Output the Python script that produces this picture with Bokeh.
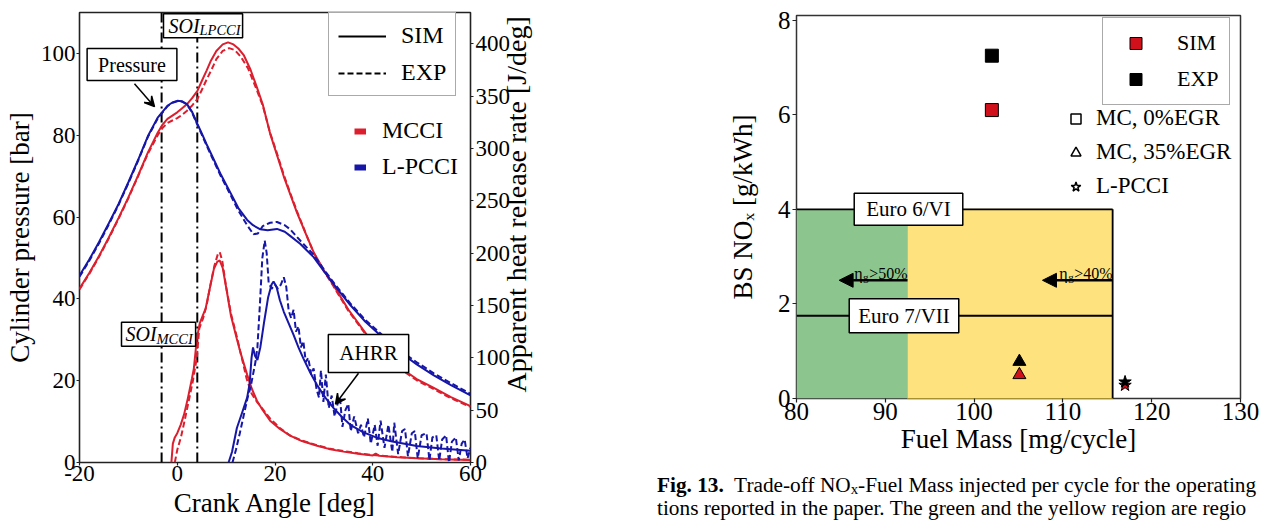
import math
from bokeh.plotting import figure
from bokeh.layouts import row, column
from bokeh.models import (Range1d, LinearAxis, FixedTicker, Label, Arrow, VeeHead,
                          NormalHead, Span, Legend, LegendItem, ColumnDataSource, Div)
from bokeh.embed import file_html
from bokeh.resources import INLINE

# ---------------- data: left panel (cylinder pressure / AHRR) ----------------
pres_lpcci_sim_deg = [-20, -18, -16, -14, -12, -10, -8, -6, -4, -2, -1, 0, 1, 2, 3, 4.1, 5, 6, 7.5, 9,
                      10.9, 12.5, 14.3, 15.5, 17, 18.5, 20.4, 22, 23.1, 25.2, 27.9, 30, 32.5, 35.4, 38.5,
                      42.2, 45.5, 49, 52.5, 56, 60]
pres_lpcci_sim_bar = [45.7, 49.6, 53.9, 58.5, 63.2, 68.5, 74.0, 79.8, 84.3, 87.2, 88.0, 88.4, 88.3, 87.6,
                      85.8, 82.8, 80.5, 77.8, 74.0, 70.2, 65.9, 62.2, 59.3, 58.0, 57.0, 56.8, 57.1, 56.4,
                      55.4, 53.4, 50.2, 46.8, 42.8, 38.5, 34.4, 30.4, 27.0, 24.0, 21.3, 18.9, 16.4]

pres_lpcci_exp_deg = [-20, -18, -16, -14, -12, -10, -8, -6, -4, -2, -1, 0, 1, 2, 3, 4.1, 5, 6, 7.5, 9,
                      10.9, 12.5, 14.3, 15.6, 16.5, 17.5, 19, 20.4, 22, 23.1, 25.2, 27.9, 30, 32.5, 35.4,
                      38.5, 42.2, 45.5, 49, 52.5, 56, 60]
pres_lpcci_exp_bar = [45.4, 49.3, 53.6, 58.2, 63.0, 68.3, 73.8, 79.6, 84.1, 87.1, 87.9, 88.3, 88.2, 87.5,
                      85.6, 82.6, 80.2, 77.5, 73.6, 69.8, 65.4, 61.6, 58.0, 55.8, 56.0, 57.8, 58.6, 58.8,
                      58.0, 57.0, 54.2, 50.8, 47.2, 43.2, 38.9, 34.8, 30.9, 27.5, 24.5, 21.8, 19.4, 16.8]

pres_mcci_sim_deg = [-20, -18, -16, -14, -12, -10, -8, -6, -4, -3, -2, -1, 0, 1, 2, 3, 4.1, 5, 6, 6.8,
                     8, 9.3, 10.4, 11.5, 12.5, 13.6, 15, 16.3, 17.5, 19, 20.5, 21.8, 23.2, 24.5, 26.2,
                     27.9, 30, 32, 35, 38.8, 42, 45.6, 49, 52.4, 56, 60]
pres_mcci_sim_bar = [42.5, 46.3, 50.5, 55.0, 59.8, 64.8, 70.2, 75.8, 80.6, 82.6, 84.0, 84.8, 85.6, 86.6,
                     87.6, 89.0, 90.8, 93.2, 95.8, 98.0, 100.6, 102.2, 102.7, 102.2, 101.2, 99.6, 96.0,
                     91.7, 87.5, 80.4, 74.8, 69.9, 65.3, 61.1, 56.2, 51.4, 47.0, 43.3, 37.4, 31.2, 27.0,
                     23.2, 20.4, 18.3, 16.0, 13.8]

pres_mcci_exp_deg = [-20, -18, -16, -14, -12, -10, -8, -6, -4, -3, -2, -1, 0, 1, 2, 3, 4.1, 5, 6, 7, 8,
                     9.3, 10.6, 11.8, 13, 14.5, 16.3, 17.5, 19, 20.5, 21.8, 23.2, 24.5, 26.2, 27.9, 30,
                     32, 35, 38.8, 42, 45.6, 49, 52.4, 56, 60]
pres_mcci_exp_bar = [42.3, 46.1, 50.3, 54.8, 59.6, 64.6, 70.0, 75.5, 80.0, 81.8, 83.0, 83.6, 84.2, 85.0,
                     86.0, 87.2, 88.8, 91.0, 93.6, 96.0, 98.6, 100.6, 101.3, 100.8, 99.2, 96.3, 91.0,
                     87.2, 80.6, 75.2, 70.3, 65.6, 61.4, 56.3, 51.3, 46.8, 43.0, 37.1, 30.9, 26.7, 22.9,
                     20.1, 18.0, 15.7, 13.6]

ahrr_mcci_sim_deg = [-1.2, -0.9, -0.5, 0, 0.7, 1.4, 2.2, 3.0, 3.4, 4.0, 4.6, 5.2, 5.8, 6.6, 7.5, 8.2,
                     8.7, 9.3, 10.2, 11.0, 12.2, 13.0, 14.3, 15.3, 16.3, 17.5, 19, 21, 23.1, 25.5, 28.6,
                     31, 34, 37, 40, 40.6, 41.3, 45, 49, 54, 60]
ahrr_mcci_sim_j = [0, 18, 24, 28, 36, 46, 62, 80, 90, 118, 133, 140, 147, 165, 185, 192, 193, 186, 162,
                   140, 118, 104, 84, 70, 59, 50, 40, 32, 25.6, 20.5, 16, 13, 10.4, 8.4, 6.8, 8.5, 6.5,
                   5.0, 4.0, 3.0, 2.4]

ahrr_mcci_exp_deg = [-0.5, 0, 0.8, 1.6, 2.4, 3.2, 4.0, 4.5, 5.3, 6.0, 6.8, 7.6, 8.3, 8.7, 9.2, 10, 11,
                     12.2, 13.2, 14.2, 15.2, 16.3, 17.5, 19, 21, 23, 25.5, 28.6, 31, 34, 37, 40, 43, 46,
                     49, 54, 60]
ahrr_mcci_exp_j = [0, 12, 25, 42, 60, 78, 100, 128, 138, 150, 170, 188, 199, 201, 193, 168, 142, 120, 100,
                   80, 66, 58, 51, 42, 33, 26, 21, 16.5, 13.5, 11, 8.8, 7.2, 6.0, 5.0, 4.2, 3.2, 2.6]

ahrr_lpcci_sim_deg = [10.5, 11.2, 12.2, 13.3, 14.3, 14.8, 15.2, 15.5, 15.9, 16.4, 17.0, 17.8, 18.6, 19.3,
                      19.7, 20.3, 21.0, 21.8, 22.8, 23.8, 24.8, 25.8, 27.2, 28.6, 30.3, 32, 33.7, 35.4,
                      38, 40.8, 44, 49, 54, 60]
ahrr_lpcci_sim_j = [0, 10, 33, 48, 62, 75, 100, 110, 102, 98, 110, 135, 158, 170, 173, 168, 155, 144, 133,
                    122, 110, 99.5, 86, 74, 62, 52, 43.5, 36, 29, 23.7, 20, 15.8, 13.3, 11.2]

ahrr_lpcci_exp_deg = [11.3, 12, 12.8, 13.6, 14.4, 15.0, 15.5, 16.0, 16.4, 16.9,
                      17.4, 17.9, 18.3, 18.7, 19.3, 20.0, 20.6, 21.2, 21.8, 22.3,
                      22.8, 23.3, 23.8, 24.3, 24.8, 25.3, 25.8, 26.3, 26.8, 27.4,
                      27.9, 28.5, 29.0, 29.4, 29.9, 30.4, 31.0, 31.6, 32.2, 32.8,
                      33.3, 33.8, 34.4, 35.0, 35.5, 36.2, 37.0, 37.6, 38.2, 39.0,
                      39.6, 40.4, 41.0, 41.6, 42.4, 43.2, 44.0, 44.4, 45.2, 46.0,
                      46.6, 47.2, 48.0, 48.6, 49.2, 50.0, 51.0, 51.6, 52.2, 53.0,
                      53.6, 54.2, 55.0, 55.6, 56.2, 57.0, 57.6, 58.2, 58.8, 59.4,
                      60]
ahrr_lpcci_exp_j = [0, 12, 28, 45, 62, 72, 84, 96, 110, 150,
                    195, 212, 200, 172, 166, 170, 166, 170, 177, 168,
                    145, 138, 146, 125, 130, 110, 116, 96, 100, 84,
                    90, 70, 62, 88, 58, 84, 52, 64, 44, 56,
                    62, 34, 50, 56, 30, 44, 28, 36, 24, 42,
                    18, 36, 16, 40, 14, 36, 10, 38, 8, 30,
                    32, 6, 28, 30, 4, 26, 28, 2, 24, 26,
                    2, 22, 26, 0, 20, 24, 2, 18, 22, 4,
                    14]

soi_angles = [-3.2, 4.1]          # SOI_MCCI, SOI_LPCCI
crank_ticks = [-20, 0, 20, 40, 60]
pressure_ticks = [0, 20, 40, 60, 80, 100]
ahrr_ticks = [0, 50, 100, 150, 200, 250, 300, 350, 400]

# ---------------- data: right panel (NOx vs fuel mass) ----------------
operating_points = ["MC, 0%EGR", "MC, 35%EGR", "L-PCCI"]
point_markers = ["square", "triangle", "star"]
fuel_mass = [102.0, 105.1, 117.0]
nox_sim = [6.1, 0.5, 0.28]
nox_exp = [7.25, 0.78, 0.35]
euro6_limit = 4.0
euro7_limit = 1.75
fuel_min = 80.0
eta50_fuel = 92.5
eta40_fuel = 115.6
eta50_arrow_end = 84.8
eta40_arrow_end = 107.7
arrow_level = 2.5
fuel_ticks = [80, 90, 100, 110, 120, 130]
nox_ticks = [0, 2, 4, 6, 8]

NAN = float("nan")

# ---------------- styles ----------------
FONT = "Liberation Serif"
RED = "#dc1f2e"
BLUE = "#1616a8"
RED_MARK = "#d0111c"
GREEN_FILL = "#8cc68e"
YELLOW_FILL = "#fee27e"


def style_axis(ax, size, title_size="27px"):
    ax.axis_line_color = None
    ax.major_tick_line_color = "#222222"
    ax.major_tick_line_width = 1.2
    ax.major_tick_out = 3
    ax.major_tick_in = 0
    ax.minor_tick_line_color = None
    ax.major_label_text_font = FONT
    ax.major_label_text_font_size = size
    ax.major_label_text_color = "black"
    ax.axis_label_text_font = FONT
    ax.axis_label_text_font_size = title_size
    ax.axis_label_text_font_style = "normal"
    ax.axis_label_text_color = "black"


def lab(x, y, text, size, **kw):
    opts = dict(text_font=FONT, text_font_size=f"{size}px", text_color="black")
    opts.update(kw)
    return Label(x=x, y=y, text=text, **opts)


BOX = dict(border_line_color="black", border_line_width=1.5, background_fill_color="white")

# ====================== LEFT FIGURE ======================
W1, H1 = 598, 520
L1, R1, T1, B1 = 79, 128, 12, 54
p1 = figure(width=W1, height=H1, x_range=Range1d(-20, 60), y_range=Range1d(0, 110),
            output_backend="svg", toolbar_location=None,
            min_border_left=L1, min_border_right=R1, min_border_top=T1, min_border_bottom=B1)
p1.frame_align = False
p1.extra_y_ranges = {"ahrr": Range1d(0, 430)}
# the title starts a little above the bottom of the axis, as in the reference
ahrr_axis = LinearAxis(y_range_name="ahrr", ticker=FixedTicker(ticks=ahrr_ticks),
                       axis_label="\u00a0" * 10 + "Apparent heat release rate [J/deg]")
p1.add_layout(ahrr_axis, "right")
p1.xaxis.ticker = FixedTicker(ticks=crank_ticks)
p1.xaxis.major_label_overrides = {-20: "-20"}
p1.xaxis.axis_label = "Crank Angle [deg]"
p1.left[0].ticker = FixedTicker(ticks=pressure_ticks)
p1.left[0].axis_label = "Cylinder pressure [bar]"
for ax in p1.axis:
    style_axis(ax, "23px")
p1.xaxis.major_label_standoff = 0
p1.xaxis.axis_label_standoff = 4
p1.left[0].major_label_standoff = 1
p1.left[0].axis_label_standoff = 3
ahrr_axis.major_label_standoff = 2
ahrr_axis.axis_label_standoff = 3
ahrr_axis.axis_label_text_font_size = "28px"
ahrr_axis.axis_label_orientation = math.pi / 2   # read bottom-to-top, as in the reference
ahrr_axis.axis_label_align = "start"
p1.grid.visible = False
p1.outline_line_color = "#222222"
p1.outline_line_width = 1.6


def lx(px):   # page px -> crank angle
    return -20 + (px - L1) * 80 / (W1 - L1 - R1)


def ly(py):   # page px -> pressure (bar)
    return (H1 - B1 - py) * 110 / (H1 - T1 - B1)


for a in soi_angles:
    p1.add_layout(Span(location=a, dimension="height", line_color="black", line_width=2,
                       line_dash="10 4 2 4", level="underlay"))

# pressure curves
p1.line(pres_mcci_sim_deg, pres_mcci_sim_bar, line_color=RED, line_width=2)
p1.line(pres_mcci_exp_deg, pres_mcci_exp_bar, line_color=RED, line_width=2, line_dash="6 3")
p1.line(pres_lpcci_sim_deg, pres_lpcci_sim_bar, line_color=BLUE, line_width=2)
p1.line(pres_lpcci_exp_deg, pres_lpcci_exp_bar, line_color=BLUE, line_width=2, line_dash="6 3")
# AHRR curves
p1.line(ahrr_mcci_sim_deg, ahrr_mcci_sim_j, line_color=RED, line_width=2, y_range_name="ahrr")
p1.line(ahrr_mcci_exp_deg, ahrr_mcci_exp_j, line_color=RED, line_width=2, line_dash="6 3",
        y_range_name="ahrr")
p1.line(ahrr_lpcci_sim_deg, ahrr_lpcci_sim_j, line_color=BLUE, line_width=2, y_range_name="ahrr")
p1.line(ahrr_lpcci_exp_deg, ahrr_lpcci_exp_j, line_color=BLUE, line_width=2, line_dash="6 3",
        y_range_name="ahrr")

# legend keys (no visible data)
k_sim = p1.line(x=[NAN, NAN], y=[NAN, NAN], line_color="black", line_width=2)
k_exp = p1.line(x=[NAN, NAN], y=[NAN, NAN], line_color="black", line_width=2, line_dash="6 3")
k_mcci = p1.line(x=[NAN, NAN], y=[NAN, NAN], line_color=RED, line_width=6)
k_lpcci = p1.line(x=[NAN, NAN], y=[NAN, NAN], line_color=BLUE, line_width=6)

leg1 = Legend(items=[LegendItem(label="SIM", renderers=[k_sim]),
                     LegendItem(label="EXP", renderers=[k_exp])],
              location=(249, 366), border_line_color="#555555", border_line_width=1.5,
              background_fill_color="white", background_fill_alpha=1.0,
              label_text_font=FONT, label_text_font_size="24px", label_text_color="black",
              glyph_width=48, glyph_height=24, label_standoff=15, spacing=10, padding=9, margin=0)
leg2 = Legend(items=[LegendItem(label="MCCI", renderers=[k_mcci]),
                     LegendItem(label="L-PCCI", renderers=[k_lpcci])],
              location=(275, 282), border_line_color=None, background_fill_alpha=0.0,
              label_text_font=FONT, label_text_font_size="24px", label_text_color="black",
              glyph_width=12, glyph_height=26, label_standoff=16, spacing=9, padding=0, margin=0)
p1.add_layout(leg1)
p1.add_layout(leg2)

# annotation boxes
p1.add_layout(lab(lx(131.5), ly(64.5), "Pressure", 20, text_align="center", text_baseline="middle",
                  padding=dict(left=11, right=11, top=5, bottom=5), **BOX))
p1.add_layout(Arrow(x_start=lx(134), y_start=ly(84), x_end=lx(154), y_end=ly(107),
                    line_width=1.5, end=VeeHead(size=10, line_width=1.5)))
p1.add_layout(lab(lx(368), ly(356), "AHRR", 21, text_align="center", text_baseline="middle",
                  padding=dict(left=11, right=11, top=7, bottom=7), **BOX))
p1.add_layout(Arrow(x_start=lx(358), y_start=ly(376), x_end=lx(335), y_end=ly(407),
                    line_width=1.5, end=VeeHead(size=10, line_width=1.5)))

# SOI labels (box anchored at its left edge)
p1.add_layout(lab(lx(163), ly(25.3), "SOI", 20, text_font_style="italic", text_baseline="middle",
                  padding=dict(left=5, right=43, top=1, bottom=1), **BOX))
p1.add_layout(lab(lx(199), ly(30), "LPCCI", 14.5, text_font_style="italic", text_baseline="middle"))
p1.add_layout(lab(lx(121), ly(336.7), "SOI", 20, text_font_style="italic", text_baseline="middle",
                  padding=dict(left=4, right=39, top=1, bottom=1), **BOX))
p1.add_layout(lab(lx(156), ly(341.5), "MCCI", 14.5, text_font_style="italic", text_baseline="middle"))

# ====================== RIGHT FIGURE ======================
OX2 = W1
W2, H2 = 664, 468
L2, R2, T2, B2 = 198, 22, 15, 70
p2 = figure(width=W2, height=H2, x_range=Range1d(80, 130), y_range=Range1d(0, 8.1),
            output_backend="svg", toolbar_location=None,
            min_border_left=L2, min_border_right=R2, min_border_top=T2, min_border_bottom=B2)
p2.frame_align = False
p2.xaxis.ticker = FixedTicker(ticks=fuel_ticks)
p2.yaxis.ticker = FixedTicker(ticks=nox_ticks)
for ax in p2.axis:
    style_axis(ax, "25px")
    ax.major_tick_out = 4
p2.xaxis.axis_label = "Fuel Mass [mg/cycle]"
p2.yaxis.axis_label = "BS NO\u2093 [g/kWh]"
p2.xaxis.major_label_standoff = 0
p2.xaxis.axis_label_standoff = 1
p2.yaxis.major_label_standoff = 2
p2.yaxis.axis_label_standoff = 17
p2.grid.visible = False
p2.outline_line_color = "#333333"
p2.outline_line_width = 1.5


def rx(px):
    return 80 + (px - OX2 - L2) * 50 / (W2 - L2 - R2)


# regions
p2.quad(left=[fuel_min], right=[eta50_fuel], bottom=[0], top=[euro6_limit],
        fill_color=GREEN_FILL, line_color=None)
p2.quad(left=[eta50_fuel], right=[eta40_fuel], bottom=[0], top=[euro6_limit],
        fill_color=YELLOW_FILL, line_color="#e8c21a", line_width=1)
# limit lines
p2.line([fuel_min, eta40_fuel], [euro6_limit, euro6_limit], line_color="black", line_width=1.8)
p2.line([fuel_min, eta40_fuel], [euro7_limit, euro7_limit], line_color="black", line_width=1.8)
p2.line([eta40_fuel, eta40_fuel], [0, euro6_limit], line_color="black", line_width=1.8)

# points
src_sim = ColumnDataSource(dict(x=fuel_mass, y=nox_sim, marker=point_markers))
src_exp = ColumnDataSource(dict(x=fuel_mass, y=nox_exp, marker=point_markers))
p2.scatter("x", "y", marker="marker", source=src_sim, size=13, fill_color=RED_MARK,
           line_color="black", line_width=1)
p2.scatter("x", "y", marker="marker", source=src_exp, size=13, fill_color="black",
           line_color="black", line_width=1)

# arrows + efficiency labels
for tail, tip, pct in [(eta50_fuel, eta50_arrow_end, ">50%"), (eta40_fuel, eta40_arrow_end, ">40%")]:
    p2.add_layout(Arrow(x_start=tail, y_start=arrow_level, x_end=tip, y_end=arrow_level,
                        line_width=2.6, end=NormalHead(size=14, fill_color="black",
                                                       line_color="black", line_width=1)))
    p2.add_layout(lab(tail, arrow_level, pct, 16, text_align="right", text_baseline="alphabetic",
                      y_offset=7))
    p2.add_layout(lab(tail, arrow_level, "g", 11, text_align="right", text_baseline="alphabetic",
                      x_offset=-39, y_offset=3))
    p2.add_layout(lab(tail, arrow_level, "\u03b7", 16, text_align="right",
                      text_baseline="alphabetic", x_offset=-45, y_offset=7))

# Euro limit labels
p2.add_layout(lab(rx(908), euro6_limit, "Euro 6/VI", 21, text_align="center", text_baseline="middle",
                  padding=dict(left=12, right=12, top=4, bottom=4), **BOX))
p2.add_layout(lab(rx(903.5), euro7_limit, "Euro 7/VII", 21, text_align="center",
                  text_baseline="middle", padding=dict(left=9, right=9, top=5, bottom=5), **BOX))

# legends
k2_sim = p2.scatter(x=[NAN], y=[NAN], marker="square", fill_color=RED_MARK, line_color="black", size=13)
k2_exp = p2.scatter(x=[NAN], y=[NAN], marker="square", fill_color="black", line_color="black", size=13)
k2_keys = [p2.scatter(x=[NAN], y=[NAN], marker=m, fill_color="white", line_color="black",
                      line_width=1.5, size=10) for m in point_markers]
leg3 = Legend(items=[LegendItem(label="SIM", renderers=[k2_sim]),
                     LegendItem(label="EXP", renderers=[k2_exp])],
              location=(306, 293), border_line_color="#555555", border_line_width=1.5,
              background_fill_color="white", background_fill_alpha=1.0,
              label_text_font=FONT, label_text_font_size="22px", label_text_color="black",
              glyph_width=45, glyph_height=30, label_standoff=19, spacing=6, padding=10, margin=0)
leg4 = Legend(items=[LegendItem(label=name, renderers=[r]) for name, r in zip(operating_points, k2_keys)],
              location=(267, 199), border_line_color=None, background_fill_alpha=0.0,
              label_text_font=FONT, label_text_font_size="23px", label_text_color="black",
              glyph_width=25, glyph_height=25, label_standoff=8, spacing=8, padding=0, margin=0)
p2.add_layout(leg3)
p2.add_layout(leg4)

# caption under the right panel
caption = Div(
    text=("<b>Fig. 13.</b>&nbsp; Trade-off NO<span style='font-size:70%;vertical-align:-0.15em;"
          "line-height:0'>x</span>-Fuel Mass injected per "
          "cycle for the operating<br>tions reported in the paper. The green and the yellow region "
          "are regio"),
    width=607, height=52, margin=(0, 0, 0, 59),
    styles={"font-family": "Liberation Serif", "font-size": "21.3px", "line-height": "23px",
            "padding-top": "6px", "white-space": "nowrap", "overflow": "hidden", "color": "black"})

layout = row(p1, column(p2, caption))
open("out.html", "w").write(file_html(layout, INLINE))
